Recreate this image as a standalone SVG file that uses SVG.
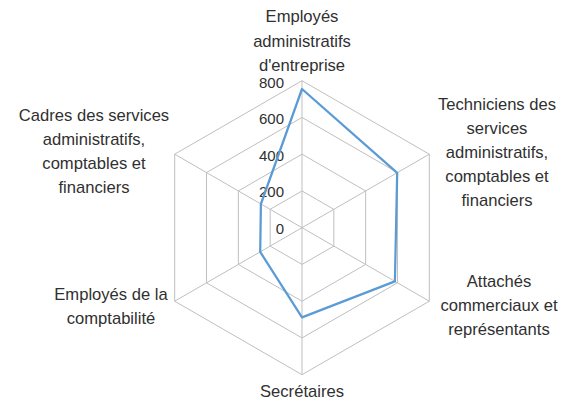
<svg xmlns="http://www.w3.org/2000/svg" width="565" height="403" viewBox="0 0 565 403">
<style>
.grid{fill:none;stroke:#BFBFBF;stroke-width:1}
.series{fill:none;stroke:#5B9BD5;stroke-width:2.25;stroke-linejoin:round}
.lbl{font-family:"Liberation Sans",Arial,sans-serif;font-size:16.6px;fill:#303030;text-anchor:middle}
.tick{font-family:"Liberation Sans",Arial,sans-serif;font-size:15px;fill:#303030;text-anchor:end}
</style>
<rect x="0" y="0" width="565" height="403" fill="#FFFFFF"/>
<g id="grid">
<polygon class="grid" points="302,80.7 429.3,154.2 429.3,301.2 302,374.7 174.7,301.2 174.7,154.2"/>
<polygon class="grid" points="302,117.45 397.48,172.57 397.48,282.83 302,337.95 206.52,282.83 206.52,172.57"/>
<polygon class="grid" points="302,154.2 365.65,190.95 365.65,264.45 302,301.2 238.35,264.45 238.35,190.95"/>
<polygon class="grid" points="302,190.95 333.83,209.32 333.83,246.08 302,264.45 270.17,246.08 270.17,209.32"/>
<path class="grid" d="M302,227.7V80.7M302,227.7L429.3,154.2M302,227.7L429.3,301.2M302,227.7V374.7M302,227.7L174.7,301.2M302,227.7L174.7,154.2"/>
</g>
<g id="ticks">
<text class="tick" x="284" y="87.5">800</text>
<text class="tick" x="284" y="123.5">600</text>
<text class="tick" x="284" y="160.5">400</text>
<text class="tick" x="284" y="197">200</text>
<text class="tick" x="284" y="234">0</text>
</g>
<g id="series">
<polygon class="series" points="302,89 397.2,172.8 394.9,281.4 302,317.4 260.2,251.9 260.9,204"/>
</g>
<g id="cat-top">
<text class="lbl" x="302" y="22">Employés</text>
<text class="lbl" x="302" y="46.5">administratifs</text>
<text class="lbl" x="302" y="70.5">d'entreprise</text>
</g>
<g id="cat-upper-right">
<text class="lbl" x="497" y="110">Techniciens des</text>
<text class="lbl" x="497" y="134">services</text>
<text class="lbl" x="497" y="158">administratifs,</text>
<text class="lbl" x="497" y="182">comptables et</text>
<text class="lbl" x="497" y="206">financiers</text>
</g>
<g id="cat-lower-right">
<text class="lbl" x="499" y="287">Attachés</text>
<text class="lbl" x="499" y="311">commerciaux et</text>
<text class="lbl" x="499" y="335">représentants</text>
</g>
<g id="cat-bottom">
<text class="lbl" x="302" y="397">Secrétaires</text>
</g>
<g id="cat-lower-left">
<text class="lbl" x="111" y="300">Employés de la</text>
<text class="lbl" x="111" y="324">comptabilité</text>
</g>
<g id="cat-upper-left">
<text class="lbl" x="94" y="121">Cadres des services</text>
<text class="lbl" x="94" y="145">administratifs,</text>
<text class="lbl" x="94" y="169">comptables et</text>
<text class="lbl" x="94" y="193">financiers</text>
</g>
</svg>
